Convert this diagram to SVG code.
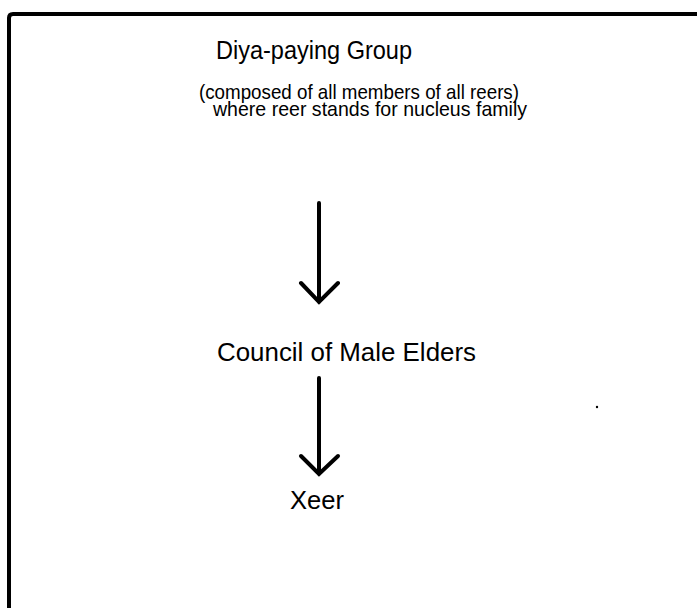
<svg xmlns="http://www.w3.org/2000/svg" width="697" height="608" viewBox="0 0 697 608">
<style>
text{font-family:"Liberation Sans","DejaVu Sans",sans-serif;fill:#000;}
.t{font-size:25px;}
.s{font-size:21px;}
.c{stroke:#000;stroke-width:4;fill:none;stroke-linecap:round;stroke-linejoin:miter;}
</style>
<rect width="697" height="608" fill="#fff"/>
<path d="M9,608 V18 Q9,14 13,14 H697" stroke="#000" stroke-width="4" fill="none"/>
<g id="diya">
<text class="t" x="216" y="59" textLength="196" lengthAdjust="spacingAndGlyphs">Diya-paying Group</text>
<text class="s" x="199" y="99" textLength="320" lengthAdjust="spacingAndGlyphs">(composed of all members of all reers)</text>
<text class="s" x="213" y="116" textLength="314" lengthAdjust="spacingAndGlyphs">where reer stands for nucleus family</text>
</g>
<g id="council">
<text class="t" x="217" y="361" textLength="259" lengthAdjust="spacingAndGlyphs">Council of Male Elders</text>
</g>
<g id="xeer">
<text class="t" x="290" y="509" textLength="54" lengthAdjust="spacingAndGlyphs">Xeer</text>
</g>
<g id="connectors">
<path class="c" d="M319,203 V302 M301,283 L319,302 L338,283"/>
<path class="c" d="M319,378 V474 M301,456 L319,474 L338,456"/>
</g>
<circle cx="597" cy="407" r="1.2" fill="#000"/>
</svg>
